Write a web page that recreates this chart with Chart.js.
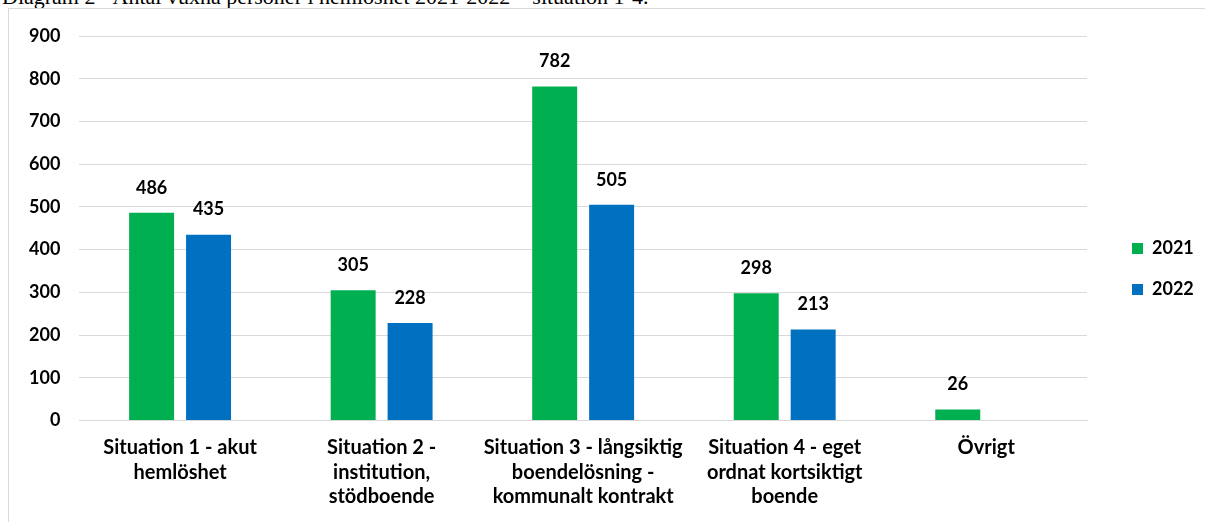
<!DOCTYPE html>
<html>
<head>
<meta charset="utf-8">
<script src="https://cdn.jsdelivr.net/npm/chart.js@4"></script>
<style>
  body { margin: 0; background: #fff; overflow: hidden; }
  #title { position: absolute; left: 2px; top: -16px; font: 22px "Liberation Serif", serif; color: #000; white-space: nowrap; }
  #frame { position: absolute; left: 8px; top: 8px; width: 1200px; height: 520px; border: 1px solid #d9d9d9; }
  #wrap { position: absolute; left: 0; top: 0; width: 1205px; height: 522px; }
</style>
</head>
<body>
<div id="title">Diagram 2 - Antal vuxna personer i hemlöshet 2021-2022 – situation 1-4.</div>
<div id="frame"></div>
<div id="wrap"><canvas id="myBarChart"></canvas></div>
<script>
const categories = [
    ['Situation 1 - akut', 'hemlöshet'],
    ['Situation 2 -', 'institution,', 'stödboende'],
    ['Situation 3 - långsiktig', 'boendelösning -', 'kommunalt kontrakt'],
    ['Situation 4 - eget', 'ordnat kortsiktigt', 'boende'],
    'Övrigt'
];
const values2021 = [486, 305, 782, 298, 26];
const values2022 = [435, 228, 505, 213, null];
const yTicks = [0, 100, 200, 300, 400, 500, 600, 700, 800, 900];

const FONT = 'Lato, sans-serif';

// draws the value above each bar
const barValues = {
    id: 'barValues',
    afterDatasetsDraw(chart) {
        const ctx = chart.ctx;
        ctx.save();
        ctx.font = 'bold 18px ' + FONT;
        ctx.fillStyle = '#000';
        ctx.textAlign = 'center';
        ctx.textBaseline = 'middle';
        chart.data.datasets.forEach((ds, i) => {
            chart.getDatasetMeta(i).data.forEach((bar, j) => {
                if (ds.data[j] == null) return;
                ctx.fillText(ds.data[j], bar.x, bar.y - 25);
            });
        });
        ctx.restore();
    }
};

// fixed legend column on the right, like the original
const legendPlace = {
    id: 'legendPlace',
    beforeLayout(chart) {
        const lg = chart.legend;
        if (lg && !lg._fixedFit) {
            const fit = lg.fit;
            lg.fit = function () {
                fit.call(this);
                this.width = 118;
            };
            lg._fixedFit = true;
        }
    },
    afterLayout(chart) {
        const lg = chart.legend;
        const w = lg.width;
        lg.left = 1109;
        lg.right = lg.left + w;
        lg.top -= 11;
        lg.bottom -= 11;
    }
};

document.addEventListener('DOMContentLoaded', function () {
    const ctx = document.getElementById('myBarChart').getContext('2d');
    new Chart(ctx, {
        type: 'bar',
        data: {
            labels: categories,
            datasets: [{
                label: '2021',
                data: values2021,
                backgroundColor: '#00b050',
                categoryPercentage: 0.565,
                barPercentage: 0.79
            },
            {
                label: '2022',
                data: values2022,
                backgroundColor: '#0070c0',
                categoryPercentage: 0.565,
                barPercentage: 0.79
            }]
        },
        options: {
            responsive: true,
            maintainAspectRatio: false,
            animation: false,
            layout: { padding: { left: 10, top: 36, right: 0, bottom: -2 } },
            plugins: {
                legend: {
                    position: 'right',
                    labels: {
                        boxWidth: 11,
                        boxHeight: 11,
                        padding: 23,
                        color: '#000',
                        font: { family: FONT, size: 18, weight: 'bold' }
                    }
                },
                tooltip: { enabled: false }
            },
            scales: {
                x: {
                    grid: { display: false, drawTicks: false, tickLength: 0 },
                    border: { color: '#d9d9d9' },
                    ticks: {
                        color: '#000',
                        maxRotation: 0,
                        autoSkip: false,
                        padding: 15,
                        font: { family: FONT, size: 20, weight: 'bold', lineHeight: 1.225 }
                    }
                },
                y: {
                    min: 0,
                    max: 900,
                    afterBuildTicks: axis => { axis.ticks = yTicks.map(v => ({ value: v })); },
                    grid: { color: '#d9d9d9', drawTicks: false },
                    border: { display: false },
                    ticks: {
                        color: '#000',
                        padding: 19,
                        font: { family: FONT, size: 18, weight: 'bold' }
                    }
                }
            }
        },
        plugins: [barValues, legendPlace]
    });
});
</script>
</body>
</html>
